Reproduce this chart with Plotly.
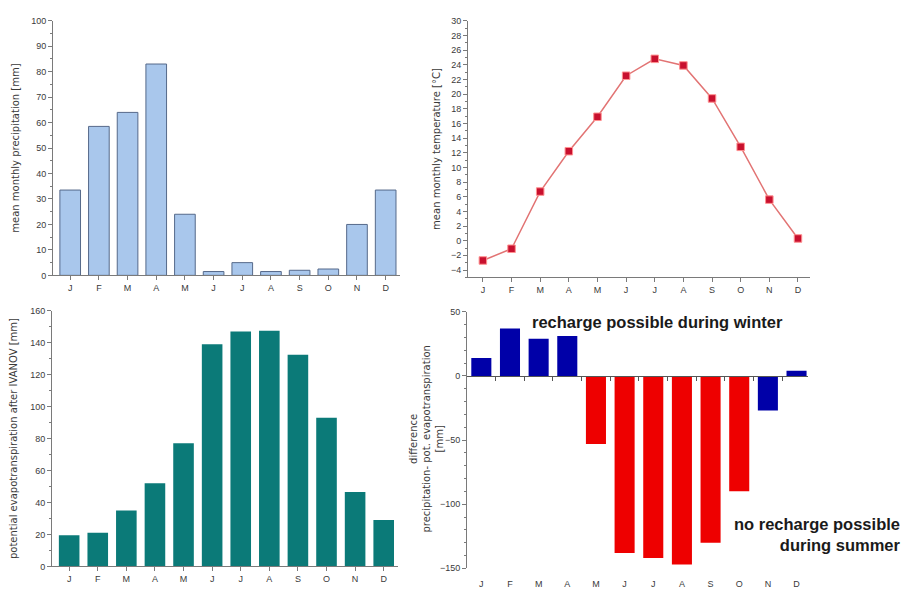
import plotly.graph_objects as go

months = ["Jan", "Feb", "Mar", "Apr", "May", "Jun", "Jul", "Aug", "Sep", "Oct", "Nov", "Dec"]
month_letters = ["J", "F", "M", "A", "M", "J", "J", "A", "S", "O", "N", "D"]

precipitation = [33.5, 58.5, 64, 83, 24, 1.5, 5, 1.5, 2, 2.5, 20, 33.5]
temperature = [-2.7, -1.1, 6.7, 12.2, 16.9, 22.5, 24.8, 23.9, 19.4, 12.8, 5.6, 0.3]
evapotranspiration = [19.5, 21, 35, 52, 77, 139, 147, 147.5, 132.5, 93, 46.5, 29]
difference = [14, 37, 29, 31, -53, -138, -142, -147, -130, -90, -27, 4]
recharge_months = ["Jan", "Feb", "Mar", "Apr", "Nov", "Dec"]

W, H = 905, 593


def xd(a, b):
    return [a / W, b / W]


def yd(top, bottom):
    return [1 - bottom / H, 1 - top / H]


FONT = "Liberation Sans, Arial, sans-serif"
TFONT = "DejaVu Sans, Verdana, sans-serif"
AX = "#7a7a7a"
TXT = "#3a3a3a"

fig = go.Figure()

fig.add_trace(go.Bar(x=months, y=precipitation, marker=dict(color="#a9c7ec", line=dict(color="#55698a", width=1)),
                     width=0.72, xaxis="x", yaxis="y", showlegend=False))
fig.add_trace(go.Scatter(x=months, y=temperature, mode="lines+markers",
                         line=dict(color="#e27474", width=1.5),
                         marker=dict(symbol="square", size=7.5, color="#c8102e", line=dict(color="#ff9090", width=1)),
                         xaxis="x2", yaxis="y2", showlegend=False))
fig.add_trace(go.Bar(x=months, y=evapotranspiration, marker=dict(color="#0b7a78", line=dict(width=0)),
                     width=0.72, xaxis="x3", yaxis="y3", showlegend=False))
diff_colors = ["#0000a8" if m in recharge_months else "#ee0000" for m in months]
fig.add_trace(go.Bar(x=months, y=difference, marker=dict(color=diff_colors, line=dict(width=0)),
                     width=0.7, xaxis="x4", yaxis="y4", showlegend=False))
# empty trace so that the zero-line axis (x5) gets drawn over the difference panel
fig.add_trace(go.Scatter(x=[None], y=[None], xaxis="x5", yaxis="y4", showlegend=False, hoverinfo="skip"))

common_x = dict(type="category", tickvals=months, ticktext=month_letters, showline=True, linecolor=AX,
                linewidth=1, ticks="outside", ticklen=4, tickcolor=AX, showgrid=False, zeroline=False,
                tickfont=dict(size=9, color=TXT, family=FONT), categoryorder="array", categoryarray=months)
common_y = dict(showline=True, linecolor=AX, linewidth=1, ticks="outside", ticklen=4, tickcolor=AX,
                showgrid=False, zeroline=False, tickfont=dict(size=9, color=TXT, family=FONT))
title_font = dict(size=10, color=TXT, family=TFONT)

fig.update_layout(
    xaxis=dict(common_x, domain=xd(53, 400), range=[-0.6, 11.5], anchor="y"),
    yaxis=dict(common_y, domain=yd(16, 275), range=[0, 100], dtick=10, anchor="x",
               minor=dict(dtick=5, ticks="outside", ticklen=2, tickcolor=AX),
               title=dict(text="mean monthly precipitation [mm]", font=title_font, standoff=9)),
    xaxis2=dict(common_x, domain=xd(468, 810), range=[-0.52, 11.42], anchor="y2"),
    yaxis2=dict(common_y, domain=yd(16, 277), range=[-5, 30], dtick=2, anchor="x2",
                minor=dict(dtick=1, ticks="outside", ticklen=2, tickcolor=AX),
                title=dict(text="mean monthly temperature [°C]", font=title_font, standoff=8)),
    xaxis3=dict(common_x, domain=xd(52, 398), range=[-0.6, 11.5], anchor="y3"),
    yaxis3=dict(common_y, domain=yd(311, 571), range=[0, 160], dtick=20, anchor="x3",
                minor=dict(dtick=10, ticks="outside", ticklen=2, tickcolor=AX),
                title=dict(text="potential evapotranspiration after IVANOV [mm]", font=title_font, standoff=10)),
    xaxis4=dict(common_x, domain=xd(467, 808), range=[-0.5, 11.4], anchor="y4", showline=False,
                ticks="outside", ticklen=7, tickcolor="rgba(0,0,0,0)"),
    yaxis4=dict(common_y, domain=yd(312, 573), range=[-150, 50], dtick=50, anchor="x4",
                minor=dict(dtick=10, ticks="outside", ticklen=2, tickcolor=AX)),
)

# zero-line axis with boundary ticks for the difference panel
y4d = yd(312, 573)
zero_pos = y4d[0] + (0 - (-150)) / (50 - (-150)) * (y4d[1] - y4d[0])
fig.update_layout(
    xaxis5=dict(overlaying="x4", anchor="free", position=zero_pos, domain=xd(467, 808), range=[-0.5, 11.4],
                type="linear", tickvals=[i + 0.5 for i in range(len(months) - 1)], showticklabels=False,
                ticks="outside", ticklen=4, tickcolor="#555555", showline=True, linecolor="#555555",
                linewidth=1, showgrid=False, zeroline=False),
)

fig.add_annotation(text="difference<br>precipitation- pot. evapotranspiration<br>[mm]", xref="paper", yref="paper",
                   x=427 / W, y=1 - 442 / H, showarrow=False, textangle=-90, font=title_font,
                   xanchor="center", yanchor="middle", align="center")

ann_font = dict(size=16.5, color="#1a1a1a", family="Liberation Sans, Arial, sans-serif")
fig.add_annotation(text="<b>recharge possible during winter</b>", xref="paper", yref="paper",
                   x=657 / W, y=1 - 322 / H, showarrow=False, font=ann_font, xanchor="center", yanchor="middle")
fig.add_annotation(text="<b>no recharge possible<br>during summer</b>", xref="paper", yref="paper",
                   x=903 / W, y=1 - 539 / H, showarrow=False, font=ann_font, xanchor="right", yanchor="middle",
                   align="right")

fig.update_layout(width=W, height=H, margin=dict(l=0, r=0, t=0, b=0), paper_bgcolor="white",
                  plot_bgcolor="white", bargap=0.3, font=dict(family=FONT))

fig.write_html("out.html", config={"displayModeBar": False},
               post_script="document.body.style.margin='0';document.body.style.overflow='hidden';")
